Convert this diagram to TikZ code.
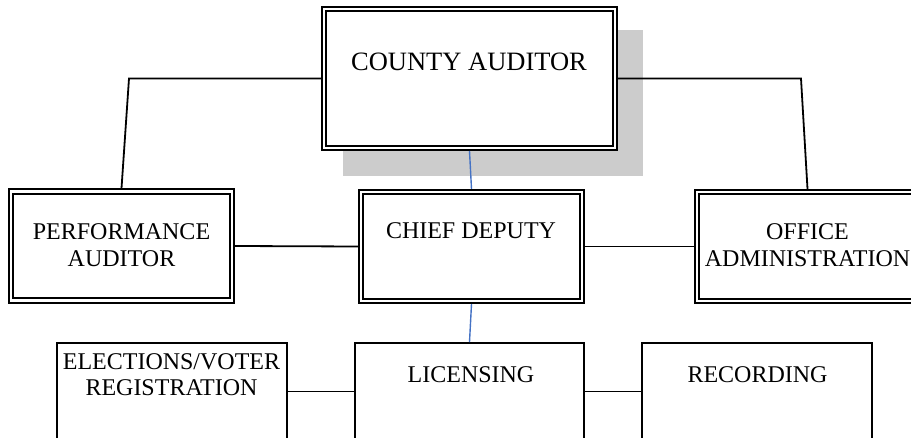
\documentclass[tikz,border=0pt]{standalone}
\usepackage{fontspec}
\setmainfont{Liberation Serif}
\usetikzlibrary{backgrounds}
\definecolor{linkblue}{RGB}{68,114,196}
\definecolor{shadowgray}{RGB}{204,204,204}

\begin{document}
\begin{tikzpicture}[x=1pt,y=-1pt,
  headbox/.style={draw=black, line width=1.8pt, double=white, double distance=2.6pt,
    fill=white, inner sep=0pt, outer sep=3.1pt,
    minimum width=221pt, minimum height=109pt},
  unitbox/.style={draw=black, line width=1.8pt, fill=white, inner sep=0pt,
    outer sep=0.9pt, minimum width=230pt, minimum height=97pt},
  link/.style={line width=1.8pt, black},
  bluelink/.style={line width=1.4pt, linkblue},
  lbl/.style={font=\fontsize{24}{27}\selectfont, align=center, inner sep=0pt, anchor=base}
]
\useasboundingbox (0,0) rectangle (911,438);
\clip (0,0) rectangle (911,438);

% boxes
\node[headbox, minimum width=290.8pt, minimum height=138.8pt] (ca) at (469.5,78.5) {};
\node[headbox] (pa) at (121.5,246) {};
\node[headbox] (cd) at (471.5,246.5) {};
\node[headbox] (oa) at (807.5,246.5) {};
\node[unitbox] (el) at (172,391.5) {};
\node[unitbox, minimum width=229pt] (li) at (469.5,391.5) {};
\node[unitbox] (re) at (757,391.5) {};

% drop shadow behind the top box
\begin{scope}[on background layer]
  \fill[shadowgray] ([shift={(22,24)}]ca.north west) rectangle ([shift={(25,25)}]ca.south east);
\end{scope}

% labels (multi-line labels sit on the baseline of their last line)
\node[lbl, font=\fontsize{26.5}{30}\selectfont] (ca-t) at (469,71) {COUNTY AUDITOR};
\node[lbl] (pa-t) at (121.5,267) {PERFORMANCE\\AUDITOR};
\node[lbl] (cd-t) at (471,239) {CHIEF DEPUTY};
\node[lbl] (oa-t) at (807.5,267) {OFFICE\\ADMINISTRATION};
\node[lbl] (el-t) at (171.5,396) {ELECTIONS/VOTER\\REGISTRATION};
\node[lbl] (li-t) at (471,383) {LICENSING};
\node[lbl] (re-t) at (757.5,383) {RECORDING};

% connectors
\coordinate (lbend) at (129,79);
\coordinate (rbend) at (801,79);
\draw[link] (ca.west) -- (ca.west -| lbend) -- (pa.north);
\draw[link] (ca.east) -- (ca.east -| rbend) -- (oa.north);
\draw[link] (pa.east) -- (cd.west);
\draw[link] (cd.east) -- (oa.west);
\draw[link] (el.east) -- (li.west);
\draw[link] (li.east) -- (re.west);
\draw[bluelink] (ca.south) -- (cd.north);
\draw[bluelink] (cd.south) -- (li.north);
\end{tikzpicture}
\end{document}
